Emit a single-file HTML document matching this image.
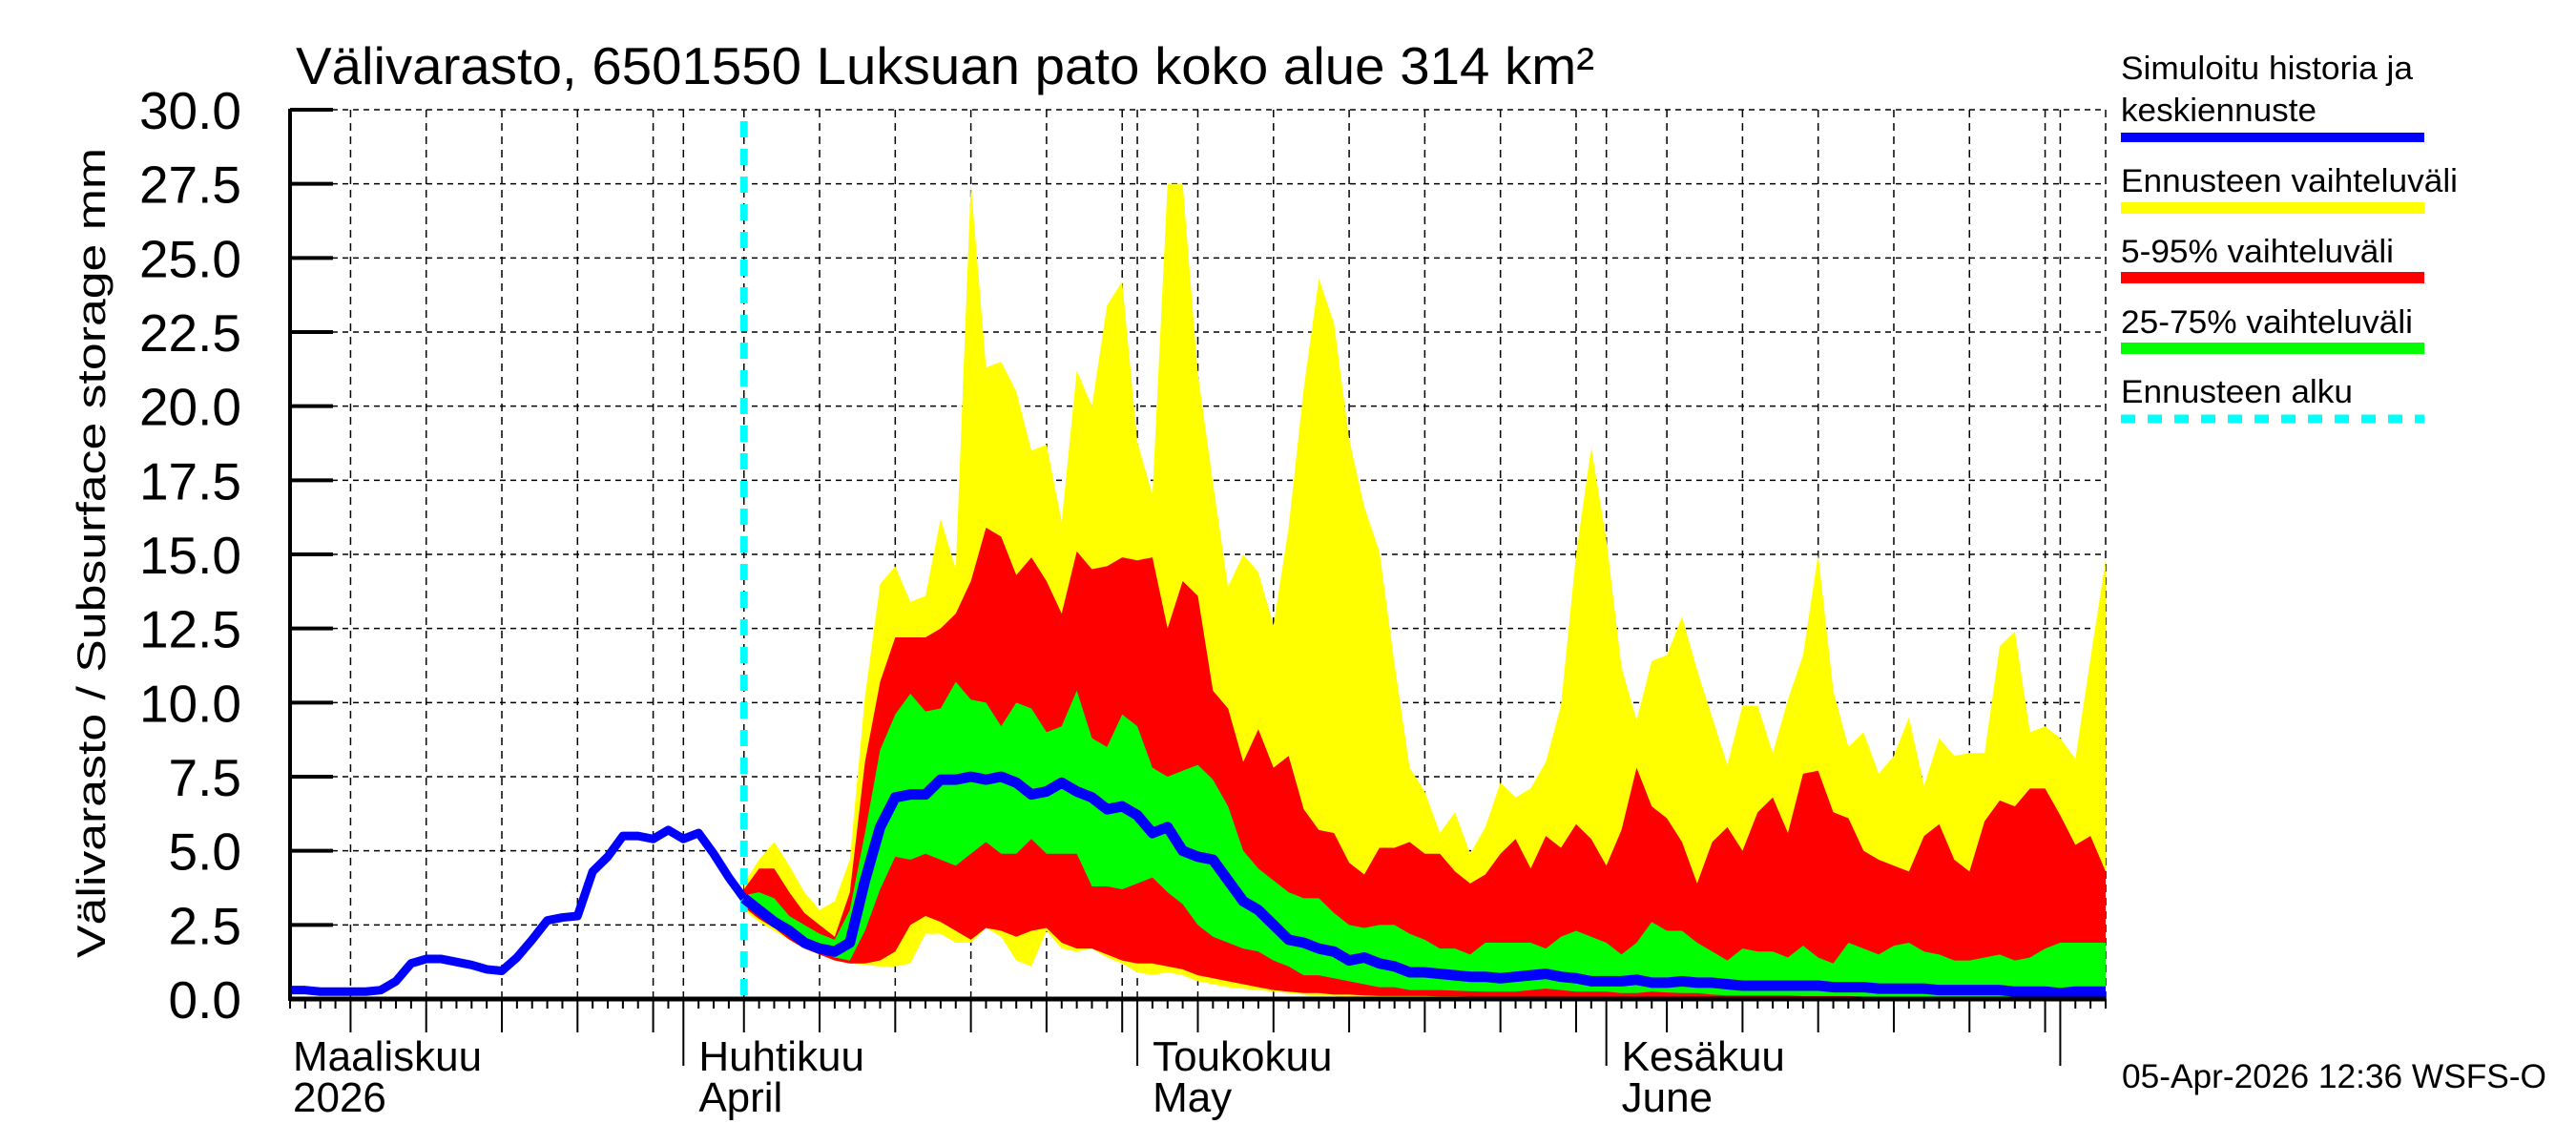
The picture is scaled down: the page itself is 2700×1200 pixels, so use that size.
<!DOCTYPE html>
<html><head><meta charset="utf-8"><style>
html,body{margin:0;padding:0;background:#fff;}
svg{display:block;font-family:"Liberation Sans",sans-serif;}
</style></head><body>
<svg id="chart" width="2700" height="1200" viewBox="0 0 2700 1200" xmlns="http://www.w3.org/2000/svg">
<rect width="2700" height="1200" fill="#fff"/>
<text x="310" y="88" font-size="55" textLength="1361" lengthAdjust="spacingAndGlyphs">Välivarasto, 6501550 Luksuan pato koko alue 314 km²</text>
<text transform="translate(110,1004) rotate(-90)" x="0" y="0" font-size="42" textLength="849" lengthAdjust="spacingAndGlyphs">Välivarasto / Subsurface storage  mm</text>
<g id="grid"></g>
<g id="bands"></g>
<g id="lines"></g>
<g id="axes"></g>
<g id="legend">
<text x="2223" y="83" font-size="34" textLength="306" lengthAdjust="spacingAndGlyphs">Simuloitu historia ja</text>
<text x="2223" y="127" font-size="34" textLength="205" lengthAdjust="spacingAndGlyphs">keskiennuste</text>
<line x1="2223" y1="144" x2="2541" y2="144" stroke="#0000ff" stroke-width="10"/>
<text x="2223" y="201" font-size="34" textLength="353" lengthAdjust="spacingAndGlyphs">Ennusteen vaihteluväli</text>
<line x1="2223" y1="218" x2="2541" y2="218" stroke="#ffff00" stroke-width="12"/>
<text x="2223" y="275" font-size="34" textLength="286" lengthAdjust="spacingAndGlyphs">5-95% vaihteluväli</text>
<line x1="2223" y1="291" x2="2541" y2="291" stroke="#ff0000" stroke-width="12"/>
<text x="2223" y="349" font-size="34" textLength="306" lengthAdjust="spacingAndGlyphs">25-75% vaihteluväli</text>
<line x1="2223" y1="365" x2="2541" y2="365" stroke="#00ff00" stroke-width="12"/>
<text x="2223" y="422" font-size="34" textLength="243" lengthAdjust="spacingAndGlyphs">Ennusteen alku</text>
<line x1="2223" y1="439" x2="2541" y2="439" stroke="#00ffff" stroke-width="9" stroke-dasharray="15 13"/>
</g>
<text x="2224" y="1140" font-size="35" textLength="445" lengthAdjust="spacingAndGlyphs">05-Apr-2026 12:36 WSFS-O</text>
</svg>
<script>
const yTicks = [0, 2.5, 5, 7.5, 10, 12.5, 15, 17.5, 20, 22.5, 25, 27.5, 30];
const yTickLabels = ["0.0","2.5","5.0","7.5","10.0","12.5","15.0","17.5","20.0","22.5","25.0","27.5","30.0"];
const monthDays = [0, 26, 56, 87];
const monthLabels1 = ["Maaliskuu","Huhtikuu","Toukokuu","Kesäkuu"];
const monthLabels2 = ["2026","April","May","June"];
const forecastStartDay = 30;
const historyDays = [0,1,2,3,4,5,6,7,8,9,10,11,12,13,14,15,16,17,18,19,20,21,22,23,24,25,26,27,28,29,30];
const historyValues = [0.3,0.3,0.25,0.25,0.25,0.25,0.3,0.6,1.2,1.35,1.35,1.25,1.15,1.0,0.95,1.4,2.0,2.65,2.75,2.8,4.3,4.8,5.5,5.5,5.4,5.7,5.4,5.6,4.9,4.1,3.4];
const rangeMax = [3.9,4.7,5.3,4.5,3.6,3.0,3.3,4.7,10.2,14.0, 14.6,13.4,13.6,16.2,14.5,27.5,21.3,21.5,20.5,18.5, 18.7,16.1,21.2,20.0,23.4,24.2,18.8,17.0,27.5,27.5, 21.1,17.4,13.9,15.0,14.4,12.6,15.9,20.6,24.3,22.8, 18.9,16.6,15.1,11.3,7.8,7.0,5.6,6.3,4.9,5.8, 7.3,6.8,7.1,8.0,9.9,15.0,18.6,15.5,11.2,9.4, 11.4,11.6,12.9,11.1,9.5,7.9,9.9,9.9,8.3,10.1, 11.6,15.0,10.4,8.5,9.0,7.6,8.2,9.5,7.2,8.8, 8.2,8.3,8.3,11.9,12.4,9.0,9.2,8.8,8.1,11.5, 14.8];
const p95 = [3.7,4.4,4.4,3.6,2.9,2.5,2.1,3.6,8.0,10.7, 12.2,12.2,12.2,12.5,13.0,14.1,15.9,15.6,14.3,14.9, 14.1,13.0,15.1,14.5,14.6,14.9,14.8,14.9,12.5,14.1, 13.6,10.4,9.8,8.0,9.1,7.8,8.2,6.4,5.7,5.6, 4.6,4.2,5.1,5.1,5.3,4.9,4.9,4.3,3.9,4.2, 4.9,5.4,4.4,5.5,5.1,5.9,5.4,4.5,5.7,7.8, 6.5,6.1,5.3,3.9,5.3,5.8,5.0,6.3,6.8,5.6, 7.6,7.7,6.3,6.1,5.0,4.7,4.5,4.3,5.5,5.9, 4.7,4.3,6.0,6.7,6.5,7.1,7.1,6.2,5.2,5.5, 4.3];
const p75 = [3.5,3.6,3.4,2.8,2.5,2.2,2.0,3.0,5.6,8.4, 9.6,10.3,9.7,9.8,10.7,10.1,10.0,9.2,10.0,9.8, 9.0,9.2,10.4,8.8,8.5,9.6,9.2,7.8,7.5,7.7, 7.9,7.4,6.5,5.0,4.4,4.0,3.6,3.4,3.4,2.9, 2.5,2.4,2.5,2.5,2.2,2.0,1.7,1.7,1.5,1.9, 1.9,1.9,1.9,1.7,2.1,2.3,2.1,1.9,1.5,1.9, 2.6,2.3,2.3,1.9,1.6,1.3,1.7,1.6,1.6,1.4, 1.8,1.4,1.2,1.9,1.7,1.5,1.8,1.9,1.6,1.5, 1.3,1.3,1.4,1.5,1.3,1.4,1.7,1.9,1.9,1.9, 1.9];
const median = [3.4,3.0,2.6,2.3,1.9,1.7,1.6,1.9,4.0,5.8, 6.8,6.9,6.9,7.4,7.4,7.5,7.4,7.5,7.3,6.9, 7.0,7.3,7.0,6.8,6.4,6.5,6.2,5.6,5.8,5.0, 4.8,4.7,4.0,3.3,3.0,2.5,2.0,1.9,1.7,1.6, 1.3,1.4,1.2,1.1,0.9,0.9,0.85,0.8,0.75,0.75, 0.7,0.75,0.8,0.85,0.75,0.7,0.6,0.6,0.6,0.65, 0.55,0.55,0.6,0.55,0.55,0.5,0.45,0.45,0.45,0.45, 0.45,0.45,0.4,0.4,0.4,0.35,0.35,0.35,0.35,0.3, 0.3,0.3,0.3,0.3,0.25,0.25,0.25,0.2,0.25,0.25, 0.25];
const p25 = [3.2,2.9,2.5,2.2,1.9,1.6,1.4,1.3,2.3,3.7, 4.8,4.7,4.9,4.7,4.5,4.9,5.3,4.9,4.9,5.4, 4.9,4.9,4.9,3.8,3.8,3.7,3.9,4.1,3.6,3.2, 2.5,2.1,1.9,1.7,1.6,1.3,1.1,0.8,0.8,0.7, 0.6,0.5,0.4,0.4,0.3,0.3,0.3,0.28,0.26,0.25, 0.25,0.25,0.3,0.35,0.3,0.25,0.25,0.25,0.2,0.2, 0.25,0.22,0.2,0.2,0.15,0.12,0.12,0.12,0.12,0.12, 0.1,0.1,0.1,0.1,0.08,0.08,0.08,0.08,0.08,0.08, 0.08,0.06,0.06,0.06,0.06,0.06,0.05,0.05,0.05,0.05, 0.05];
const p5 = [3.1,2.7,2.4,2.0,1.7,1.5,1.3,1.2,1.2,1.3, 1.6,2.5,2.8,2.6,2.3,2.0,2.4,2.3,2.1,2.3, 2.4,1.9,1.7,1.7,1.5,1.3,1.2,1.2,1.1,1.0, 0.8,0.7,0.6,0.5,0.4,0.3,0.25,0.2,0.2,0.15, 0.15,0.12,0.1,0.1,0.1,0.1,0.09,0.09,0.08,0.08, 0.08,0.08,0.08,0.07,0.07,0.07,0.06,0.06,0.06,0.06, 0.05,0.05,0.05,0.05,0.05,0.04,0.04,0.04,0.04,0.04, 0.04,0.04,0.03,0.03,0.03,0.03,0.03,0.03,0.03,0.03, 0.03,0.03,0.02,0.02,0.02,0.02,0.02,0.02,0.02,0.02, 0.02];
const rangeMin = [3.0,2.6,2.3,2.0,1.7,1.5,1.3,1.2,1.15,1.1, 1.1,1.2,2.2,2.2,1.9,1.9,2.4,2.1,1.3,1.1, 2.3,1.7,1.6,1.7,1.4,1.2,0.9,0.8,0.9,0.8, 0.6,0.5,0.4,0.35,0.3,0.25,0.2,0.15,0.1,0.1, 0.05,0.05,0.04,0.04,0.04,0.04,0.03,0.03,0.03,0.03, 0.03,0.03,0.03,0.03,0.03,0.02,0.02,0.02,0.02,0.02, 0.02,0.02,0.02,0.02,0.02,0.02,0.02,0.02,0.02,0.02, 0.01,0.01,0.01,0.01,0.01,0.01,0.01,0.01,0.01,0.01, 0.01,0.01,0.01,0.01,0.01,0.01,0.01,0.01,0.01,0.01, 0.01];

const NS = "http://www.w3.org/2000/svg";
const X0 = 304, X1 = 2207, Y0 = 1047, Y1 = 115, NDAYS = 120;
function xS(d){ return X0 + d * (X1 - X0) / NDAYS; }
function yS(v){ return Y0 - v * (Y0 - Y1) / 30; }
function mk(tag, attrs, parent){
  const e = document.createElementNS(NS, tag);
  for (const k in attrs) e.setAttribute(k, attrs[k]);
  parent.appendChild(e);
  return e;
}
const grid = document.getElementById('grid');
const bands = document.getElementById('bands');
const lines = document.getElementById('lines');
const axes = document.getElementById('axes');
const startDate = new Date(2026, 2, 6);
function dom(d){ const t = new Date(startDate.getTime()); t.setDate(t.getDate() + d); return t.getDate(); }

yTicks.forEach((v, i) => {
  if (v === 0) return;
  const g = mk('line', {x1: X0, x2: X1, y1: yS(v), y2: yS(v), stroke: '#000', 'stroke-width': 1.5, 'stroke-dasharray': '6 5'}, grid);
  
  
});
for (let d = 0; d <= NDAYS; d++) {
  const day = dom(d);
  const isMonth = day === 1;
  const is5 = day % 5 === 0;
  const x = xS(d);
  if ((isMonth || is5) && d > 0) {
    const g = mk('line', {x1: x, x2: x, y1: Y1, y2: Y0, stroke: '#000', 'stroke-width': 1.5, 'stroke-dasharray': '8 6'}, grid);
    
    
  }
  const len = isMonth ? 70 : (is5 ? 35 : 10);
  const t = mk('line', {x1: x, x2: x, y1: Y0, y2: Y0 + len, stroke: '#000', 'stroke-width': 2}, axes);
  
  
}
const rb = mk('line', {x1: X1, x2: X1, y1: Y1, y2: Y0, stroke: '#000', 'stroke-width': 1.5, 'stroke-dasharray': '8 6'}, grid);



function band(lo, hi, color, name){
  let pts = [];
  for (let i = 0; i < hi.length; i++) pts.push(xS(forecastStartDay + i) + ',' + yS(hi[i]));
  for (let i = lo.length - 1; i >= 0; i--) pts.push(xS(forecastStartDay + i) + ',' + yS(lo[i]));
  const p = mk('polygon', {points: pts.join(' '), fill: color}, bands);
  
  
}
band(rangeMin, rangeMax, '#ffff00', 'band-min-max');
band(p5, p95, '#ff0000', 'band-5-95');
band(p25, p75, '#00ff00', 'band-25-75');

const fs = mk('line', {x1: xS(forecastStartDay), x2: xS(forecastStartDay), y1: 127, y2: Y0, stroke: '#00ffff', 'stroke-width': 8, 'stroke-dasharray': '17 12'}, lines);



const hp = mk('polyline', {points: historyDays.map((d, i) => xS(d) + ',' + yS(historyValues[i])).join(' '), fill: 'none', stroke: '#0000ff', 'stroke-width': 9, 'stroke-linejoin': 'round'}, lines);


const mp = mk('polyline', {points: median.map((v, i) => xS(forecastStartDay + i) + ',' + yS(v)).join(' '), fill: 'none', stroke: '#0000ff', 'stroke-width': 11, 'stroke-linejoin': 'round'}, lines);



const ya = mk('line', {x1: X0, x2: X0, y1: Y1 - 1, y2: Y0 + 2, stroke: '#000', 'stroke-width': 4}, axes);


const xa = mk('line', {x1: X0, x2: X1, y1: Y0, y2: Y0, stroke: '#000', 'stroke-width': 5}, axes);


yTicks.forEach((v, i) => {
  const t = mk('line', {x1: X0, x2: X0 + 45, y1: yS(v), y2: yS(v), stroke: '#000', 'stroke-width': 4}, axes);
  
  
  const l = mk('text', {x: 253, y: yS(v) + 20, 'font-size': 55, 'text-anchor': 'end'}, axes);
  l.textContent = yTickLabels[i];
  
  
});
monthDays.forEach((d, i) => {
  const x = (d === 0 ? X0 + 3 : xS(d) + 16);
  const a = mk('text', {x: x, y: 1122, 'font-size': 44}, axes);
  a.textContent = monthLabels1[i];
  
  
  const b = mk('text', {x: x, y: 1165, 'font-size': 44}, axes);
  b.textContent = monthLabels2[i];
  
  
});
</script>
</body></html>
